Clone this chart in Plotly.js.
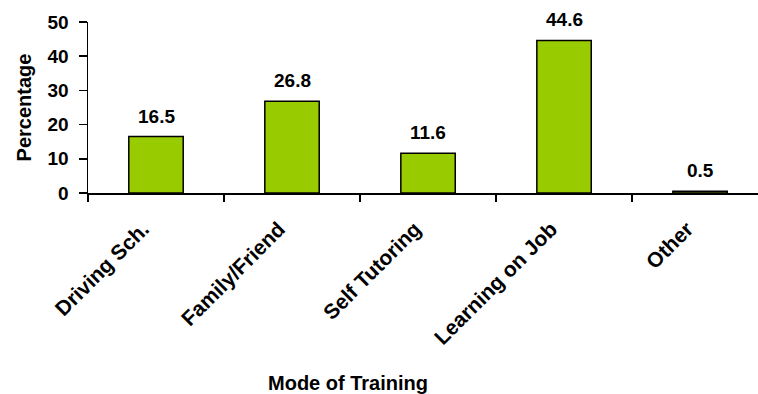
<!DOCTYPE html>
<html>
<head>
<meta charset="utf-8">
<script src="https://cdn.plot.ly/plotly-3.0.1.min.js"></script>
<style>html,body{margin:0;padding:0;background:#fff;}#chart{width:758px;height:394px;}</style>
</head>
<body>
<div id="chart"></div>
<script>
const categories = ["Driving Sch.", "Family/Friend", "Self Tutoring", "Learning on Job", "Other"];
const percentages = [16.5, 26.8, 11.6, 44.6, 0.5];
const yTicks = [0, 10, 20, 30, 40, 50];

const font = "Liberation Sans, Arial, sans-serif";

const trace = {
  type: "bar",
  x: categories,
  y: percentages,
  width: 0.4,
  marker: {color: "#99CC00", line: {color: "#000", width: 1.5}},
  hoverinfo: "none"
};

const labelAnnotations = categories.map((c, i) => ({
  x: c, y: percentages[i], xref: "x", yref: "y",
  text: percentages[i].toFixed(1), showarrow: false,
  yanchor: "bottom", yshift: 8,
  font: {family: font, size: 19, color: "#000", weight: "bold"}
}));

const layout = {
  width: 758, height: 394,
  margin: {l: 88, r: 0, t: 22, b: 201},
  paper_bgcolor: "#fff", plot_bgcolor: "#fff",
  showlegend: false,
  bargap: 0.6,
  xaxis: {
    type: "category",
    range: [-0.5, 4.426],
    tickson: "boundaries",
    ticks: "outside", ticklen: 7, tickwidth: 1.5, tickcolor: "#000",
    showline: true, linecolor: "#000", linewidth: 1.5,
    showgrid: false, zeroline: false,
    tickangle: -45,
    ticklabelstandoff: 14,
    ticklabelshift: -13,
    tickfont: {family: font, size: 21, color: "#000", weight: "bold"}
  },
  yaxis: {
    range: [0, 50],
    tickvals: yTicks,
    ticks: "outside", ticklen: 8, tickwidth: 1.5, tickcolor: "#000",
    showline: true, linecolor: "#000", linewidth: 1.5,
    showgrid: false, zeroline: false,
    ticklabelstandoff: 6,
    tickfont: {family: font, size: 19, color: "#000", weight: "bold"},
    title: {text: "Percentage", standoff: 10, font: {family: font, size: 20, color: "#000", weight: "bold"}}
  },
  annotations: labelAnnotations.concat([{
    xref: "paper", yref: "paper", x: (348 - 88) / 670, y: -(383 - 193) / 171,
    text: "Mode of Training", showarrow: false, xanchor: "center", yanchor: "middle",
    font: {family: font, size: 20, color: "#000", weight: "bold"}
  }])
};

Plotly.newPlot("chart", [trace], layout, {staticPlot: true, displayModeBar: false});
</script>
</body>
</html>
